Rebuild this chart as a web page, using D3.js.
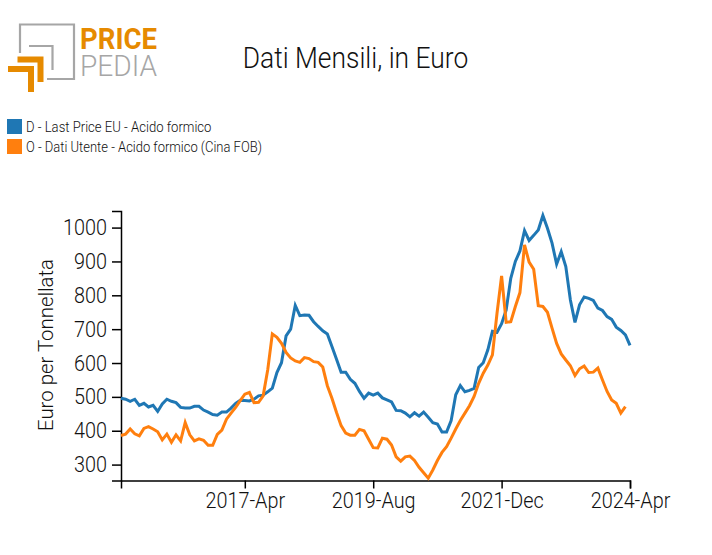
<!DOCTYPE html>
<html>
<head>
<meta charset="utf-8">
<script src="https://cdn.jsdelivr.net/npm/d3@7"></script>
<style>
  html, body { margin: 0; padding: 0; background: #fff; }
  text { font-family: Roboto, sans-serif; font-weight: 300; fill: #111; }
</style>
</head>
<body>
<svg id="chart" width="712" height="555"></svg>
<script>
const tickLabels = ['2017-Apr', '2019-Aug', '2021-Dec', '2024-Apr']
const yTicks = [300, 400, 500, 600, 700, 800, 900, 1000]
const seriesNames = ['D - Last Price EU - Acido formico', 'O - Dati Utente - Acido formico (Cina FOB)']
const seriesColors = ['#1f77b4', '#ff7f0e']

// one value per month, 2015-Jan to 2024-Apr
const lastPrice = [
  496, 493, 487, 493, 475, 481, 470, 475, 457, 479, 493, 487,
  483, 469, 467, 467, 472, 472, 461, 455, 448, 446, 455, 455,
  467, 481, 490, 489, 488, 493, 503, 505, 515, 526, 572, 601,
  680, 700, 770, 740, 742, 741, 722, 708, 695, 686, 649, 611,
  573, 573, 552, 540, 516, 496, 511, 505, 511, 497, 491, 485,
  460, 459, 452, 441, 453, 443, 455, 440, 424, 420, 396, 396,
  430, 506, 533, 515, 519, 525, 587, 601, 639, 694, 691, 716,
  757, 850, 900, 931, 991, 962, 977, 993, 1036, 998, 954, 892,
  929, 885, 786, 720, 772, 795, 791, 785, 762, 755, 737, 729,
  706, 696, 683, 652
]
const datiUtente = [
  386, 390, 405, 391, 385, 407, 412, 405, 397, 373, 390, 366,
  388, 370, 424, 388, 370, 376, 372, 357, 357, 389, 402, 434,
  452, 469, 489, 508, 513, 483, 484, 503, 580, 686, 676, 658,
  631, 615, 606, 602, 616, 613, 604, 602, 588, 533, 496, 454,
  415, 393, 387, 387, 404, 400, 375, 350, 349, 378, 375, 358,
  323, 310, 323, 325, 312, 292, 276, 260, 284, 312, 336, 353,
  378, 405, 430, 452, 474, 501, 540, 570, 594, 624, 747, 857,
  720, 722, 767, 808, 949, 898, 877, 769, 767, 750, 703, 658,
  627, 609, 592, 563, 583, 591, 572, 573, 585, 550, 516, 491,
  481, 452, 471, null
]

const svg = d3.select('#chart')

const months = d3.utcMonths(new Date(Date.UTC(2015, 0, 1)), new Date(Date.UTC(2024, 4, 1)))
const monthName = d3.utcFormat('%Y-%b')

const x = d3.scalePoint().domain(months.map(monthName)).range([121, 630])
const y = d3.scaleLinear().domain([253, 1049]).range([480.5, 211])

// the reference text is narrower than plain Roboto
function squeeze(sel, factor) {
  sel.each(function () {
    d3.select(this)
      .attr('textLength', this.getComputedTextLength() * factor)
      .attr('lengthAdjust', 'spacingAndGlyphs')
  })
}

// logo
const logo = svg.append('g').attr('fill', 'none')
logo.append('path').attr('d', 'M20 53V24.5H74V79H47').attr('stroke', '#a6a6a6').attr('stroke-width', 2.2)
logo.append('path').attr('d', 'M29 46H52.5V70').attr('stroke', '#a6a6a6').attr('stroke-width', 2.2)
logo.append('path').attr('d', 'M17.5 59.5H40.5V82').attr('stroke', '#e68a00').attr('stroke-width', 6)
logo.append('path').attr('d', 'M8 69H31V92').attr('stroke', '#e68a00').attr('stroke-width', 6)
svg.append('text').attr('x', 80).attr('y', 49).text('PRICE')
  .attr('textLength', 77).attr('lengthAdjust', 'spacingAndGlyphs')
  .style('font-size', '29px').style('font-weight', 700).style('fill', '#e68a00')
svg.append('text').attr('x', 80).attr('y', 76).text('PEDIA')
  .attr('textLength', 77).attr('lengthAdjust', 'spacingAndGlyphs')
  .style('font-size', '29px').style('font-weight', 300).style('fill', '#a6a6a6')

svg.append('text').attr('x', 355.5).attr('y', 68).attr('text-anchor', 'middle')
  .text('Dati Mensili, in Euro').style('font-size', '30px')
  .call(squeeze, 0.88)

// legend
seriesNames.forEach((name, i) => {
  const ly = 119 + i * 20
  svg.append('rect').attr('x', 7).attr('y', ly).attr('width', 15).attr('height', 15)
    .attr('fill', seriesColors[i])
  svg.append('text').attr('x', 26).attr('y', ly + 13).text(name).style('font-size', '15px')
    .call(squeeze, i == 0 ? 0.873 : 0.865)
})

// axes
const yAxis = d3.axisLeft(y).tickValues(yTicks).tickFormat(d3.format('d')).tickSize(9).tickPadding(5)
const gy = svg.append('g').attr('transform', 'translate(121,0)').call(yAxis)
const xAxis = d3.axisBottom(x).tickValues(tickLabels).tickSize(8).tickPadding(4)
const gx = svg.append('g').attr('transform', 'translate(0,480.5)').call(xAxis)

for (const g of [gx, gy]) {
  g.selectAll('text')
    .style('font-size', '22px').style('font-family', 'Roboto, sans-serif').style('font-weight', 300)
    .call(squeeze, 0.9)
  g.selectAll('path, line').attr('stroke', '#000').attr('stroke-width', 1.5)
}

svg.append('text')
  .attr('transform', 'translate(53,345) rotate(-90)')
  .attr('text-anchor', 'middle')
  .text('Euro per Tonnellata')
  .style('font-size', '21px')
  .attr('textLength', 172).attr('lengthAdjust', 'spacingAndGlyphs')

// lines
const line = d3.line()
  .defined((d) => d != null)
  .x((d, i) => x(monthName(months[i])))
  .y((d) => y(d))

svg.selectAll('path.series')
  .data([lastPrice, datiUtente])
  .join('path')
  .attr('class', 'series')
  .attr('fill', 'none')
  .attr('stroke', (d, i) => seriesColors[i])
  .attr('stroke-width', 3)
  .attr('d', line)
</script>
</body>
</html>
